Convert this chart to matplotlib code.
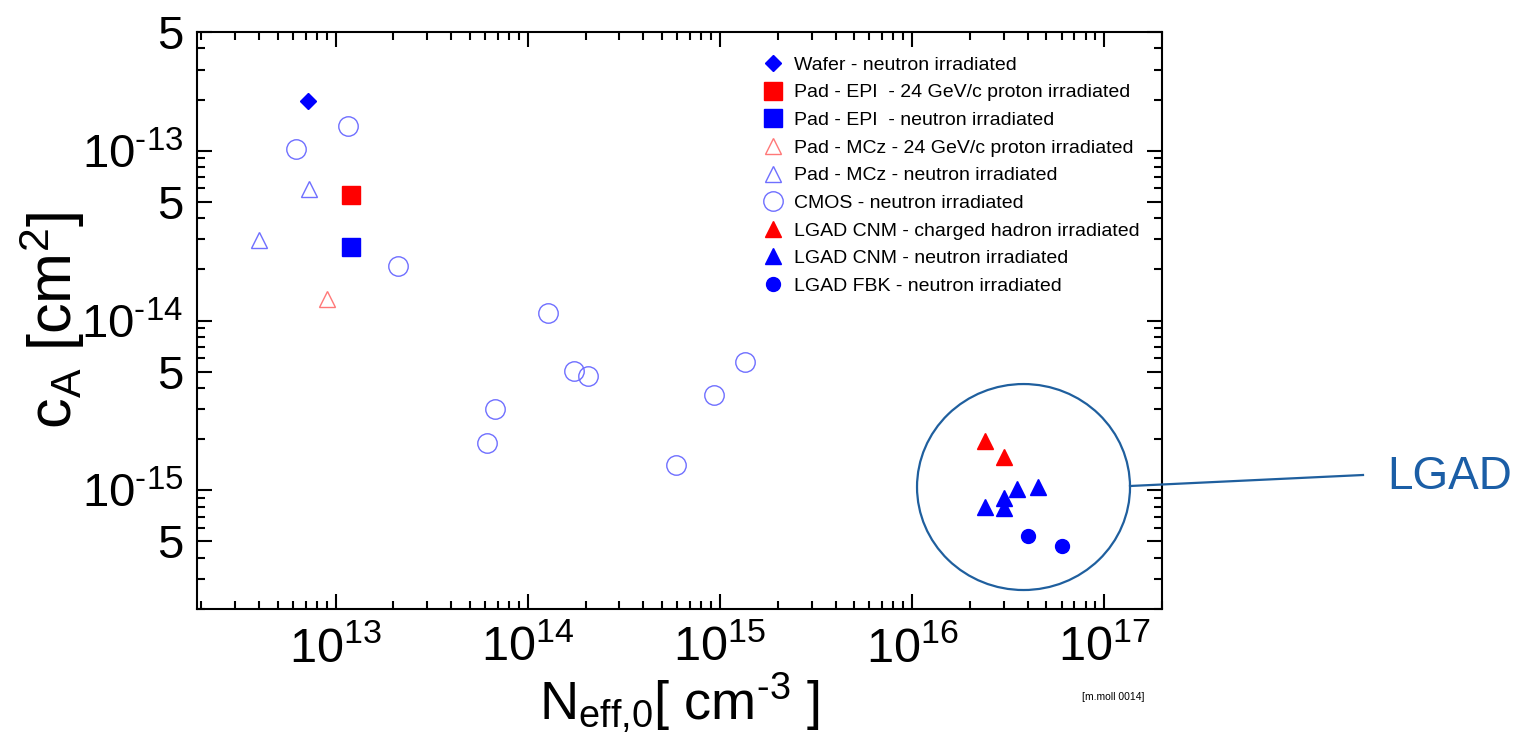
import numpy as np
import matplotlib
matplotlib.use("Agg")
import matplotlib.pyplot as plt
from matplotlib.patches import Ellipse
from matplotlib.lines import Line2D
from matplotlib.ticker import LogLocator, FixedLocator, FuncFormatter, NullFormatter

# データ (Neff0 [cm^-3], cA [cm^2])
wafer_n_x = [7.2e12]
wafer_n_y = [1.97e-13]

epi_p_x = [1.2e13]
epi_p_y = [5.5e-14]

epi_n_x = [1.2e13]
epi_n_y = [2.72e-14]

mcz_p_x = [9.05e12]
mcz_p_y = [1.33e-14]

mcz_n_x = [7.26e12, 4.02e12]
mcz_n_y = [5.97e-14, 2.98e-14]

cmos_x = [1.155e13, 6.24e12, 2.12e13, 1.27e14, 1.74e14, 2.05e14, 6.73e13, 6.11e13, 5.9e14, 9.3e14, 1.35e15]
cmos_y = [1.40e-13, 1.03e-13, 2.09e-14, 1.10e-14, 5.05e-15, 4.71e-15, 3.01e-15, 1.90e-15, 1.41e-15, 3.64e-15, 5.69e-15]

cnm_h_x = [2.40e16, 3.01e16]
cnm_h_y = [1.96e-15, 1.57e-15]

cnm_n_x = [3.51e16, 4.5e16, 2.40e16, 3.01e16, 3.01e16]
cnm_n_y = [1.02e-15, 1.04e-15, 8.0e-16, 8.97e-16, 7.83e-16]

fbk_n_x = [4.01e16, 6.03e16]
fbk_n_y = [5.41e-16, 4.70e-16]

x_decades = [1e13, 1e14, 1e15, 1e16, 1e17]
y_major = [5e-16, 1e-15, 5e-15, 1e-14, 5e-14, 1e-13, 5e-13]

plt.rcParams['font.family'] = ['Liberation Sans', 'DejaVu Sans']
plt.rcParams['mathtext.fontset'] = 'custom'
plt.rcParams['mathtext.rm'] = 'Liberation Sans'
plt.rcParams['mathtext.it'] = 'Liberation Sans'
plt.rcParams['mathtext.sf'] = 'Liberation Sans'

BLUE = '#0000ff'
RED = '#ff0000'
LBLUE = '#6f6fff'
LRED = '#ff7878'
HY = '\u2010'

fig = plt.figure(figsize=(15.15, 7.38), dpi=100)
ax = fig.add_axes([0.130, 0.1748, 0.637, 0.7818])

ax.plot(wafer_n_x, wafer_n_y, 'D', color=BLUE, ms=8.5, ls='none', label='Wafer - neutron irradiated')
ax.plot(epi_p_x, epi_p_y, 's', color=RED, ms=12.5, ls='none', label='Pad - EPI  - 24 GeV/c proton irradiated')
ax.plot(epi_n_x, epi_n_y, 's', color=BLUE, ms=12.5, ls='none', label='Pad - EPI  - neutron irradiated')
ax.plot(mcz_p_x, mcz_p_y, '^', mfc='none', mec=LRED, mew=1.0, ms=11, ls='none', label='Pad - MCz - 24 GeV/c proton irradiated')
ax.plot(mcz_n_x, mcz_n_y, '^', mfc='none', mec=LBLUE, mew=1.0, ms=11, ls='none', label='Pad - MCz - neutron irradiated')
ax.plot(cmos_x, cmos_y, 'o', mfc='none', mec=LBLUE, mew=1.0, ms=14, ls='none', label='CMOS - neutron irradiated')
ax.plot(cnm_h_x, cnm_h_y, '^', color=RED, ms=11, ls='none', label='LGAD CNM - charged hadron irradiated')
ax.plot(cnm_n_x, cnm_n_y, '^', color=BLUE, ms=11, ls='none', label='LGAD CNM - neutron irradiated')
ax.plot(fbk_n_x, fbk_n_y, 'o', color=BLUE, ms=10, ls='none', label='LGAD FBK - neutron irradiated')

ax.set_xscale('log')
ax.set_yscale('log')
ax.set_xlim(1.9e12, 2.0e17)
ax.set_ylim(2e-16, 5e-13)

# 軸の目盛り
ax.xaxis.set_major_locator(FixedLocator(x_decades))
ax.xaxis.set_minor_locator(LogLocator(base=10, subs=np.arange(2, 10), numticks=20))
ax.xaxis.set_minor_formatter(NullFormatter())
ax.xaxis.set_major_formatter(FuncFormatter(lambda v, p: r'$\mathregular{10^{%d}}$' % round(np.log10(v))))

def y_fmt(v, p):
    e = np.floor(np.log10(v) + 1e-9)
    m = v / 10 ** e
    if abs(m - 1) < 1e-6:
        return r'$\mathregular{10^{%s%d}}$' % (HY, abs(int(e)))
    return '$\\mathregular{%d}$' % round(m)

ax.yaxis.set_major_locator(FixedLocator(y_major))
ax.yaxis.set_minor_locator(LogLocator(base=10, subs=[2, 3, 4, 6, 7, 8, 9], numticks=20))
ax.yaxis.set_minor_formatter(NullFormatter())
ax.yaxis.set_major_formatter(FuncFormatter(y_fmt))

ax.tick_params(which='both', direction='in', top=True, right=True, width=1.5)
ax.tick_params(which='major', length=11)
ax.tick_params(which='minor', length=6)
ax.tick_params(axis='y', which='major', labelsize=34, pad=10)
ax.tick_params(axis='x', which='major', labelsize=35, pad=12)
for s in ax.spines.values():
    s.set_linewidth(1.5)

ax.set_xlabel(r'$\mathsf{N_{eff{,}0}[\ cm^{%s3}\ ]}$' % HY, fontsize=39, labelpad=0)
ax.set_ylabel(r'$\mathsf{c_A\ [cm^2]}$', fontsize=44)
ax.yaxis.set_label_coords(-0.114, 0.50)

leg = ax.legend(loc='upper left', bbox_to_anchor=(0.585, 0.958), frameon=False,
                fontsize=14, handlelength=1.2, handletextpad=0.45,
                labelspacing=0.515, borderpad=0, borderaxespad=0, numpoints=1)

# LGAD の囲み
ax.add_patch(Ellipse((0.8565, 0.2114), 0.2207, 0.357, transform=ax.transAxes,
                     fill=False, ec='#1f5f9e', lw=1.6, clip_on=False))
fig.add_artist(Line2D([1130 / 1515, 1363 / 1515], [1 - 486 / 738, 1 - 475 / 738],
                      transform=fig.transFigure, color='#1f5f9e', lw=1.6))
fig.text(1387 / 1515, 1 - 477 / 738, 'LGAD', fontsize=33, color='#1b5ea6',
         ha='left', va='center')

fig.text(1113 / 1515, 1 - 697 / 738, '[m.moll 0014]', fontsize=7.5, ha='center', va='center')

fig.savefig('out.png', dpi=100)
